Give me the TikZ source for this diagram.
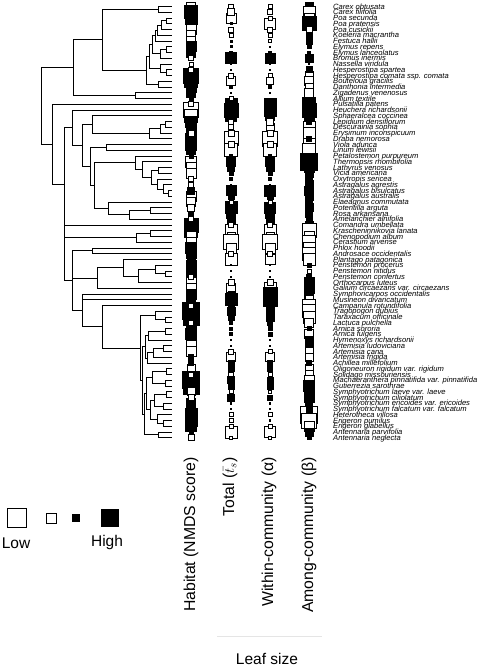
\documentclass[tikz,border=0pt]{standalone}
\usepackage{fontspec}
\setmainfont{Liberation Sans}
\usetikzlibrary{calc}
\newcommand\clade[4]{%
  \path let \p1=(#3), \p2=(#4) in (#2,{0.5*(\y1+\y2)}) coordinate (#1);
  \draw[branch] (#1) |- (#3) (#1) |- (#4);}
\newcommand\sqcol[3]{%
  \foreach \v [count=\i] in {#3}{%
    \pgfmathsetmacro\s{abs(\v)}%
    \ifdim\s pt>7pt
      \ifdim\v pt>0pt\def\fc{black}\else\def\fc{white}\fi
      \node[leafsq,minimum size=\s pt,fill=\fc] (#1\i) at (#2,{6.5+5.75*(\i-1)}) {};
    \fi}
  \foreach \v [count=\i] in {#3}{%
    \pgfmathsetmacro\s{abs(\v)}%
    \ifdim\s pt>7pt\else
      \ifdim\v pt>0pt\def\fc{black}\else\def\fc{white}\fi
      \node[leafsq,minimum size=\s pt,fill=\fc] (#1\i) at (#2,{6.5+5.75*(\i-1)}) {};
    \fi}}

\begin{document}
\begin{tikzpicture}[x=1pt,y=-1pt,
  branch/.style={line width=0.9pt},
  leafsq/.style={draw,line width=0.8pt,inner sep=0pt,outer sep=0pt,rectangle},
  species/.style={anchor=mid west,inner sep=0pt,font=\fontsize{7.6}{7.6}\selectfont\itshape},
  axislab/.style={rotate=90,anchor=east,inner sep=0pt,font=\fontsize{15.8}{18}\selectfont},
  keylab/.style={inner sep=0pt,font=\fontsize{15.5}{18}\selectfont}]
\useasboundingbox (0,0) rectangle (487,668);

\foreach \i in {1,...,76}
  \coordinate (t\i) at (172,{6.5+5.75*(\i-1)});

\foreach \name [count=\i] in {Carex obtusata, Carex filifolia, Poa secunda, Poa pratensis,
  Poa cusickii, Koeleria macrantha, Festuca hallii, Elymus repens, Elymus lanceolatus,
  Bromus inermis, Nassella viridula, Hesperostipa spartea, Hesperostipa comata ssp. comata,
  Bouteloua gracilis, Danthonia intermedia, Zigadenus venenosus, Allium textile,
  Pulsatilla patens, Heuchera richardsonii, Sphaeralcea coccinea, Lepidium densiflorum,
  Descurainia sophia, Erysimum inconspicuum, Draba nemorosa, Viola adunca, Linum lewisii,
  Petalostemon purpureum, Thermopsis rhombifolia, Lathyrus venosus, Vicia americana,
  Oxytropis sericea, Astragalus agrestis, Astragalus bisulcatus, Astragalus australis,
  Elaeagnus commutata, Potentilla arguta, Rosa arkansana, Amelanchier alnifolia,
  Comandra umbellata, Krascheninnikovia lanata, Chenopodium album, Cerastium arvense,
  Phlox hoodii, Androsace occidentalis, Plantago patagonica, Penstemon procerus,
  Penstemon nitidus, Penstemon confertus, Orthocarpus luteus,
  Galium circaezans var. circaezans, Symphoricarpos occidentalis, Musineon divaricatum,
  Campanula rotundifolia, Tragopogon dubius, Taraxacum officinale, Lactuca pulchella,
  Arnica sororia, Arnica fulgens, Hymenoxys richardsonii, Artemisia ludoviciana,
  Artemisia cana, Artemisia frigida, Achillea millefolium, Oligoneuron rigidum var. rigidum,
  Solidago missouriensis, Machaeranthera pinnatifida var. pinnatifida, Gutierrezia sarothrae,
  Symphyotrichum laeve var. laeve, Symphyotrichum ciliolatum,
  Symphyotrichum ericoides var. ericoides, Symphyotrichum falcatum var. falcatum,
  Heterotheca villosa, Erigeron pumilus, Erigeron glabellus, Antennaria parvifolia,
  Antennaria neglecta}
  \node[species] (s\i) at (333,{6.5+5.75*(\i-1)}) {\name};

% monocots
\clade{g1}{166}{t3}{t4}
\clade{g2}{161}{g1}{t5}
\clade{g3}{157}{g2}{t6}
\clade{g4}{155}{g3}{t7}
\clade{g5}{166}{t8}{t9}
\clade{g6}{160}{g5}{t10}
\clade{g7}{152}{g4}{g6}
\clade{g8}{166}{t12}{t13}
\clade{g9}{160}{t11}{g8}
\clade{g10}{149}{g7}{g9}
\clade{g11}{158}{t14}{t15}
\clade{g12}{146}{g10}{g11}
\clade{m1}{158}{t1}{t2}
\clade{m2}{102}{m1}{g12}
\clade{m3}{135}{t16}{t17}
\clade{m4}{73}{m2}{m3}

% rosids
\clade{b1}{165}{t21}{t22}
\clade{b2}{160}{b1}{t23}
\clade{bras}{149}{b2}{t24}
\clade{ro3}{92}{t20}{bras}
\clade{mal}{106}{t25}{t26}
\clade{f1}{158}{t29}{t30}
\clade{f2}{168}{t33}{t34}
\clade{f3}{163}{t32}{f2}
\clade{f4}{157}{t31}{f3}
\clade{f5}{151}{f1}{f4}
\clade{f6}{142}{t28}{f5}
\clade{fab}{135}{t27}{f6}
\clade{r1}{150}{t36}{t37}
\clade{r2}{129}{r1}{t38}
\clade{ros}{108}{t35}{r2}
\clade{fr}{94}{fab}{ros}
\clade{ro4}{90}{mal}{fr}
\clade{ro2}{82}{ro3}{ro4}
\clade{ro1}{72}{t19}{ro2}

% caryophyllales
\clade{c1}{150}{t40}{t41}
\clade{car}{136}{c1}{t42}

% asterids
\clade{eric}{92}{t43}{t44}
\clade{p1}{165}{t47}{t48}
\clade{p2}{155}{t46}{p1}
\clade{p3}{138}{p2}{t49}
\clade{lam}{123}{t45}{p3}
\clade{lg}{97}{lam}{t50}
\clade{ci1}{165}{t55}{t56}
\clade{ci}{155}{t54}{ci1}
\clade{arn}{165}{t57}{t58}
\clade{hx}{148}{arn}{t59}
\clade{a1}{163}{t60}{t61}
\clade{a2}{153}{a1}{t62}
\clade{anth}{147}{a2}{t63}
\clade{ha}{145}{hx}{anth}
\clade{s1}{166}{t64}{t65}
\clade{s2}{165}{t66}{t67}
\clade{s3}{152}{s1}{s2}
\clade{sy1}{166}{t68}{t69}
\clade{sy2}{163}{t70}{t71}
\clade{sy}{154}{sy1}{sy2}
\clade{er}{163}{t73}{t74}
\clade{er2}{157}{t72}{er}
\clade{s4}{150}{sy}{er2}
\clade{astr}{146}{s3}{s4}
\clade{ant}{158}{t75}{t76}
\clade{astgn}{144}{astr}{ant}
\clade{rest}{142}{ha}{astgn}
\clade{aster}{140}{ci}{rest}
\clade{cam2}{102}{t53}{aster}
\clade{camp}{82}{t51}{cam2}
\draw[branch] (camp) |- (t52);
\clade{ast}{72}{eric}{camp}
\draw[branch] (ast) |- (lg);

% eudicots and root
\coordinate (core) at (64,184);
\draw[branch] (core) |- (ro1) (core) |- (t39) (core) |- (car) (core) |- (ast);
\clade{e1}{52}{t18}{core}
\clade{root}{41}{m4}{e1}

% squares
\sqcol{h}{191}{-9,13,12,8,-10,-9,-9,10,9,-5,-4,-5,15,13,10,9,4,-5,-15,-13,11,10,-6,11,11,9,4,-11,-10,-10,-5,-5,7,-10,-9,-7,5,-5,14,13,-10,-10,11,10,8,10,10,-5,-10,-10,10,9,-5,17,16,-5,10,11,10,-10,-10,5,5,-8,-5,17,16,-8,-6,9,6,12,12,11,4,-6}
\sqcol{ts}{231}{-5,-7,-10,2,-5,-4,2,2,3,11,1.5,1.5,-5,-9,3,1.5,-4,12,14,11,-5,-5,-6,-14,-6,-13,3,9,7,4,3,1.5,10,6,-4,12,9,8,-5,-12,-8,-15,-10,-5,-12,1,1.5,1.5,-6,-9,6,12,6,8,6,3,3,3,1.5,1,-5,-9,6,6,-5,7,6,-4,7,1.5,1.5,-4,-4,-4,-12,-3}
\sqcol{wi}{270}{-4,-5,-4,-11,-5,-4,-3,1.5,3,10,1.5,1.5,-4,-7,3,1.5,1,12,12,9,-7,-8,-6,-15,-6,-13,3,9,8,4,3,1.5,11,6,-4,11,9,8,-5,-12,-8,-15,-10,-5,-10,1,1.5,1,-6,-12,14,14,8,8,8,5,4,4,1.5,1.5,-4,-9,5,5,-4,6,6,-3,5,1.5,1.5,-4,1.5,-4,-11,-3}
\sqcol{am}{309}{8,-12,-10,14,-6,6,6,4,3,8,1,6,-8,-9,-8,-9,1.5,13,14,10,5,-12,-12,5,-12,-13,6,17,10,8,7,8,9,8,7,8,7,6,-8,-14,-10,-13,-12,-13,-12,4,-4,5,10,10,9,-8,-13,-13,-12,-9,4,-9,8,8,-8,-8,5,-8,-8,-10,11,10,10,7,6,-17,-15,-10,8,4}

% legend
\node[leafsq,minimum size=19pt,fill=white] (k1) at (17,518) {};
\node[leafsq,minimum size=10pt,fill=white] (k2) at (51,518) {};
\node[leafsq,minimum size=7pt,fill=black] (k3) at (76,518) {};
\node[leafsq,minimum size=17pt,fill=black] (k4) at (110,518) {};
\node[keylab] (low) at (16,543) {Low};
\node[keylab] (high) at (107,542) {High};

\node[axislab] (habitat) at (191,457) {Habitat (NMDS score)};
\node[axislab] (total) at (230,457) {Total ($\bar{t}_{s}$)};
\node[axislab] (within) at (269,457) {Within-community (α)};
\node[axislab] (among) at (309,457) {Among-community (β)};
\coordinate (rulel) at (217,636);
\coordinate (ruler) at (322,636);
\draw[gray!20,line width=0.6pt] (rulel) -- (ruler);
\node[keylab] (leafsize) at (267,659) {Leaf size};
\end{tikzpicture}
\end{document}
